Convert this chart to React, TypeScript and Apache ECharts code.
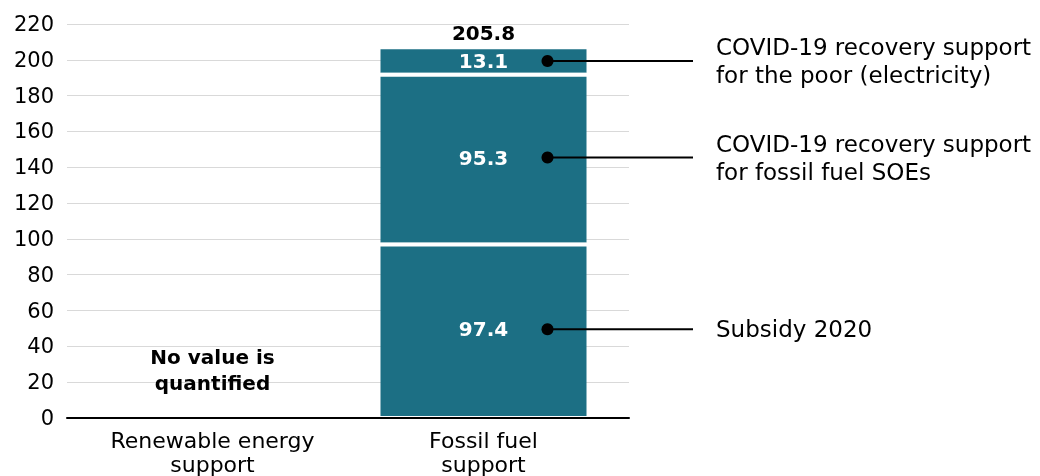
import React, { useEffect, useRef } from "react";
import * as echarts from "echarts";

const categories = ["Renewable energy\nsupport", "Fossil fuel\nsupport"];
const subsidy2020 = [0, 97.4];
const covidSOEs = [0, 95.3];
const covidPoor = [0, 13.1];
const totals = [null, 205.8];
const annotations = [
  "Subsidy 2020",
  "COVID-19 recovery support\nfor fossil fuel SOEs",
  "COVID-19 recovery support\nfor the poor (electricity)",
];
const noValueText = "No value is\nquantified";
const yTicks = { min: 0, max: 220, interval: 20 };

const TEAL = "#1C6F84";
const FONT = "DejaVu Sans";
const BAR_W = 206;

export default function App() {
  const ref = useRef<HTMLDivElement>(null);
  useEffect(() => {
    if (!ref.current) return;
    const chart = echarts.init(ref.current, null, { renderer: "svg" });
    const seg = (name: string, data: number[]) => ({
      name,
      type: "bar",
      stack: "total",
      xAxisIndex: 1,
      yAxisIndex: 1,
      barWidth: BAR_W,
      data,
      itemStyle: { color: TEAL },
      label: {
        show: true,
        position: "inside",
        color: "#fff",
        fontWeight: "bold",
        fontSize: 20,
        fontFamily: FONT,
        formatter: (p: any) => (p.value ? String(p.value) : ""),
      },
    });
    chart.setOption({
      animation: false,
      textStyle: { fontFamily: FONT },
      grid: [
        { left: 67, right: 411, top: 24, bottom: 58 },
        { left: 77, right: 421, top: 24, bottom: 58 },
      ],
      xAxis: [
        {
          type: "value",
          gridIndex: 0,
          min: 0,
          max: 1,
          axisLine: { show: true, onZero: false, lineStyle: { color: "#000", width: 2 } },
          axisTick: { show: false },
          axisLabel: { show: false },
          splitLine: { show: false },
          z: 10,
        },
        {
          type: "category",
          gridIndex: 1,
          data: categories,
          axisLine: { show: false },
          axisTick: { show: false },
          axisLabel: {
            color: "#000",
            fontSize: 22,
            lineHeight: 24,
            margin: 12,
            fontFamily: FONT,
          },
        },
      ],
      yAxis: [
        {
          type: "value",
          gridIndex: 0,
          ...yTicks,
          axisLine: { show: false },
          axisTick: { show: false },
          axisLabel: { color: "#000", fontSize: 21, margin: 13, fontFamily: FONT },
          splitLine: { lineStyle: { color: "#d9d9d9", width: 1 } },
        },
        {
          type: "value",
          gridIndex: 1,
          ...yTicks,
          show: false,
        },
      ],
      series: [
        seg("Subsidy 2020", subsidy2020),
        seg("COVID-19 recovery support for fossil fuel SOEs", covidSOEs),
        seg("COVID-19 recovery support for the poor (electricity)", covidPoor),
        {
          type: "scatter",
          xAxisIndex: 1,
          yAxisIndex: 1,
          symbolSize: 0,
          itemStyle: { opacity: 1 },
          data: totals.map((v, i) => (v == null ? null : [i, v])).filter(Boolean),
          label: {
            show: true,
            position: "top",
            distance: 6,
            color: "#000",
            opacity: 1,
            fontWeight: "bold",
            fontSize: 20,
            fontFamily: FONT,
            formatter: (p: any) => String(p.value[1]),
          },
        },
      ],
    });

    const stacks = [subsidy2020, covidSOEs, covidPoor];
    let base = 0;
    const graphics: any[] = [];
    const barCenter = chart.convertToPixel({ xAxisIndex: 1 }, 1) as number;
    stacks.forEach((s, i) => {
      const mid = base + s[1] / 2;
      base += s[1];
      const y = chart.convertToPixel({ yAxisIndex: 1 }, mid) as number;
      if (i < stacks.length - 1) {
        const yb = chart.convertToPixel({ yAxisIndex: 1 }, base) as number;
        graphics.push({
          type: "rect",
          shape: { x: barCenter - BAR_W / 2 - 1, y: yb, width: BAR_W + 2, height: 4 },
          style: { fill: "#fff" },
          z: 15,
        });
      }
      const dotX = barCenter + 64;
      graphics.push({
        type: "line",
        shape: { x1: dotX, y1: y, x2: 693, y2: y },
        style: { stroke: "#000", lineWidth: 2 },
        z: 20,
      });
      graphics.push({
        type: "circle",
        shape: { cx: dotX, cy: y, r: 6 },
        style: { fill: "#000" },
        z: 21,
      });
      graphics.push({
        type: "text",
        x: 716,
        y: y,
        style: {
          text: annotations[i],
          fill: "#000",
          font: `23px '${FONT}'`,
          lineHeight: 28,
          verticalAlign: "middle",
          align: "left",
        },
        z: 20,
      });
    });
    const nvX = chart.convertToPixel({ xAxisIndex: 1 }, 0) as number;
    const nvY = chart.convertToPixel({ yAxisIndex: 1 }, 26) as number;
    graphics.push({
      type: "text",
      x: nvX,
      y: nvY,
      style: {
        text: noValueText,
        fill: "#000",
        font: `bold 20px '${FONT}'`,
        lineHeight: 26,
        align: "center",
        verticalAlign: "middle",
      },
      z: 20,
    });
    chart.setOption({ graphic: graphics });

    return () => chart.dispose();
  }, []);
  return (
    <div
      ref={ref}
      style={{ position: "fixed", left: 0, top: 0, width: 1040, height: 476 }}
    />
  );
}
